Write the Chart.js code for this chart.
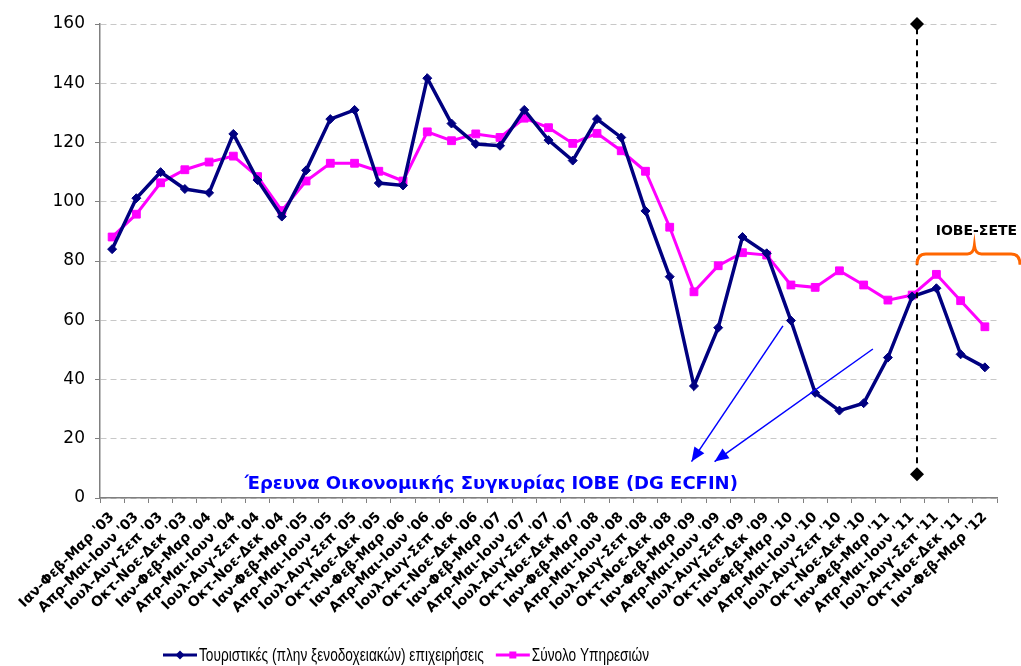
<!DOCTYPE html>
<html>
<head>
<meta charset="utf-8">
<script src="https://cdn.jsdelivr.net/npm/chart.js@4/dist/chart.umd.min.js"></script>
<style>
  html, body { margin: 0; padding: 0; background: #fff; }
  #wrap { width: 1021px; height: 666px; position: relative; }
</style>
</head>
<body>
<div id="wrap"><canvas id="chart"></canvas></div>
<script>
// --- Data ---

const quarterLabels = [
    "Ιαν-Φεβ-Μαρ '03", "Απρ-Μαι-Ιουν '03", "Ιουλ-Αυγ-Σεπ '03", "Οκτ-Νοε-Δεκ '03",
    "Ιαν-Φεβ-Μαρ '04", "Απρ-Μαι-Ιουν '04", "Ιουλ-Αυγ-Σεπ '04", "Οκτ-Νοε-Δεκ '04",
    "Ιαν-Φεβ-Μαρ '05", "Απρ-Μαι-Ιουν '05", "Ιουλ-Αυγ-Σεπ '05", "Οκτ-Νοε-Δεκ '05",
    "Ιαν-Φεβ-Μαρ '06", "Απρ-Μαι-Ιουν '06", "Ιουλ-Αυγ-Σεπ '06", "Οκτ-Νοε-Δεκ '06",
    "Ιαν-Φεβ-Μαρ '07", "Απρ-Μαι-Ιουν '07", "Ιουλ-Αυγ-Σεπ '07", "Οκτ-Νοε-Δεκ '07",
    "Ιαν-Φεβ-Μαρ '08", "Απρ-Μαι-Ιουν '08", "Ιουλ-Αυγ-Σεπ '08", "Οκτ-Νοε-Δεκ '08",
    "Ιαν-Φεβ-Μαρ '09", "Απρ-Μαι-Ιουν '09", "Ιουλ-Αυγ-Σεπ '09", "Οκτ-Νοε-Δεκ '09",
    "Ιαν-Φεβ-Μαρ '10", "Απρ-Μαι-Ιουν '10", "Ιουλ-Αυγ-Σεπ '10", "Οκτ-Νοε-Δεκ '10",
    "Ιαν-Φεβ-Μαρ '11", "Απρ-Μαι-Ιουν '11", "Ιουλ-Αυγ-Σεπ '11", "Οκτ-Νοε-Δεκ '11",
    "Ιαν-Φεβ-Μαρ '12"
];

const tourismValues = [
    84, 101.2, 110, 104.3, 103, 122.9, 107.3, 95,
    110.6, 127.9, 131, 106.3, 105.5, 141.7, 126.4, 119.5,
    118.9, 131, 120.8, 113.9, 127.9, 121.7, 96.9, 74.7,
    37.8, 57.5, 88.1, 82.6, 59.9, 35.5, 29.5, 32,
    47.4, 68, 70.8, 48.5, 44.1
];

const servicesValues = [
    88.1, 95.8, 106.4, 110.8, 113.4, 115.4, 108.5, 97,
    107, 113, 113, 110.3, 107, 123.6, 120.6, 122.9,
    121.7, 128.2, 125, 119.7, 123.1, 117.2, 110.3, 91.4,
    69.6, 78.4, 82.8, 82, 71.9, 71.1, 76.7, 71.9,
    66.8, 68.5, 75.5, 66.6, 57.8
];

const seriesNames = [
    'Τουριστικές (πλην ξενοδοχειακών) επιχειρήσεις',
    'Σύνολο Υπηρεσιών'
];

// annotations, in axis units (category index, value)
const splitIndex = 33.2;
const splitRange = [8, 160];
const braceSpan = [33.2, 37.45];
const braceLevels = [78.7, 82.4, 85.2];
const braceLabel = { text: 'ΙΟΒΕ-ΣΕΤΕ', at: [35.65, 90] };
const surveyNote = { text: 'Έρευνα Οικονομικής Συγκυρίας ΙΟΒΕ (DG ECFIN)', at: [15.64, 4.7] };
const surveyArrows = [
    [[27.67, 58.1], [23.9, 12.3]],
    [[31.38, 50.3], [24.85, 12.3]]
];

// --- Plugins ---

function arrowHead(ctx, x1, y1, x2, y2) {
    const ang = Math.atan2(y2 - y1, x2 - x1);
    const len = 14, half = 6;
    ctx.beginPath();
    ctx.moveTo(x2, y2);
    ctx.lineTo(x2 - len * Math.cos(ang) + half * Math.sin(ang), y2 - len * Math.sin(ang) - half * Math.cos(ang));
    ctx.lineTo(x2 - len * Math.cos(ang) - half * Math.sin(ang), y2 - len * Math.sin(ang) + half * Math.cos(ang));
    ctx.closePath();
    ctx.fill();
}

function diamond(ctx, x, y, r) {
    ctx.beginPath();
    ctx.moveTo(x, y - r);
    ctx.lineTo(x + r, y);
    ctx.lineTo(x, y + r);
    ctx.lineTo(x - r, y);
    ctx.closePath();
    ctx.fill();
}

const annotations = {
    id: 'annotations',
    afterDatasetsDraw(chart) {
        const { ctx, scales: { x, y } } = chart;
        ctx.save();

        // vertical split line
        const sx = x.getPixelForValue(splitIndex);
        ctx.strokeStyle = '#000';
        ctx.lineWidth = 2;
        ctx.setLineDash([6, 5]);
        ctx.beginPath();
        ctx.moveTo(sx, y.getPixelForValue(splitRange[0]));
        ctx.lineTo(sx, y.getPixelForValue(splitRange[1]));
        ctx.stroke();
        ctx.setLineDash([]);
        ctx.fillStyle = '#000';
        diamond(ctx, sx, y.getPixelForValue(splitRange[0]), 7);
        diamond(ctx, sx, y.getPixelForValue(splitRange[1]), 7);

        // orange brace
        const bx0 = x.getPixelForValue(braceSpan[0]);
        const bx1 = x.getPixelForValue(braceSpan[1]);
        const bm = x.getPixelForValue(braceLabel.at[0]) - 2;
        const yEnd = y.getPixelForValue(braceLevels[0]);
        const yMid = y.getPixelForValue(braceLevels[1]);
        const yTop = y.getPixelForValue(braceLevels[2]);
        ctx.strokeStyle = '#FF6600';
        ctx.lineWidth = 3;
        ctx.beginPath();
        ctx.moveTo(bx0, yEnd);
        ctx.quadraticCurveTo(bx0, yMid, bx0 + 9, yMid);
        ctx.lineTo(bm - 7, yMid);
        ctx.quadraticCurveTo(bm - 1, yMid, bm, yTop);
        ctx.quadraticCurveTo(bm + 1, yMid, bm + 7, yMid);
        ctx.lineTo(bx1 - 9, yMid);
        ctx.quadraticCurveTo(bx1, yMid, bx1, yEnd);
        ctx.stroke();

        ctx.fillStyle = '#000';
        ctx.font = 'bold 14px "DejaVu Sans"';
        ctx.textAlign = 'center';
        ctx.textBaseline = 'middle';
        ctx.fillText(braceLabel.text, x.getPixelForValue(braceLabel.at[0]), y.getPixelForValue(braceLabel.at[1]));

        // blue arrows and note
        ctx.strokeStyle = '#0000FF';
        ctx.fillStyle = '#0000FF';
        ctx.lineWidth = 1.5;
        surveyArrows.forEach(([from, to]) => {
            const x1 = x.getPixelForValue(from[0]), y1 = y.getPixelForValue(from[1]);
            const x2 = x.getPixelForValue(to[0]), y2 = y.getPixelForValue(to[1]);
            ctx.beginPath();
            ctx.moveTo(x1, y1);
            ctx.lineTo(x2, y2);
            ctx.stroke();
            arrowHead(ctx, x1, y1, x2, y2);
        });
        ctx.font = 'bold 18px "DejaVu Sans"';
        ctx.fillText(surveyNote.text, x.getPixelForValue(surveyNote.at[0]), y.getPixelForValue(surveyNote.at[1]));

        ctx.restore();
    },
    afterDraw(chart) {
        // legend: line + marker + condensed text
        const { ctx } = chart;
        const datasets = chart.data.datasets;
        const cy = chart.height - 11;
        const squash = 0.72;
        let lx = 163;
        ctx.save();
        ctx.font = '19px "Liberation Sans"';
        ctx.textBaseline = 'middle';
        ctx.textAlign = 'left';
        datasets.forEach((ds, i) => {
            ctx.strokeStyle = ds.borderColor;
            ctx.fillStyle = ds.borderColor;
            ctx.lineWidth = 3;
            ctx.beginPath();
            ctx.moveTo(lx, cy);
            ctx.lineTo(lx + 34, cy);
            ctx.stroke();
            if (ds.pointStyle === 'rectRot') {
                diamond(ctx, lx + 17, cy, 4.5);
            } else {
                ctx.fillRect(lx + 13.5, cy - 3.5, 7, 7);
            }
            lx += 36;
            const w = ctx.measureText(ds.label).width * squash;
            ctx.save();
            ctx.translate(lx, cy);
            ctx.scale(squash, 1);
            ctx.fillStyle = '#000';
            ctx.fillText(ds.label, 0, 1);
            ctx.restore();
            lx += w + 12;
        });
        ctx.restore();
    }
};

// --- Chart ---

new Chart(document.getElementById('chart'), {
    type: 'line',
    data: {
        labels: quarterLabels,
        datasets: [{
            label: seriesNames[0],
            data: tourismValues,
            borderColor: '#000080',
            backgroundColor: '#000080',
            borderWidth: 3.5,
            pointStyle: 'rectRot',
            pointRadius: 4.5,
            pointBorderWidth: 1,
            tension: 0
        }, {
            label: seriesNames[1],
            data: servicesValues,
            borderColor: '#FF00FF',
            backgroundColor: '#FF00FF',
            borderWidth: 3,
            pointStyle: 'rect',
            pointRadius: 5.5,
            pointBorderWidth: 1,
            tension: 0
        }]
    },
    options: {
        responsive: true,
        maintainAspectRatio: false,
        animation: false,
        layout: { padding: { top: 24, right: 24, bottom: 30, left: 0 } },
        plugins: {
            tooltip: { enabled: false },
            legend: { display: false }
        },
        scales: {
            x: {
                offset: true,
                afterFit(scale) { scale.height = 138; },
                grid: {
                    offset: true,
                    drawOnChartArea: false,
                    tickLength: 5,
                    tickColor: '#808080'
                },
                border: { color: '#808080', width: 1.5 },
                ticks: {
                    autoSkip: false,
                    maxRotation: 45,
                    minRotation: 45,
                    color: '#000',
                    padding: 6,
                    font: { family: '"DejaVu Sans"', size: 14, weight: 'bold' }
                }
            },
            y: {
                min: 0,
                max: 160,
                afterFit(scale) { scale.width = 100; },
                grid: {
                    color: '#c8c8c8',
                    lineWidth: 1,
                    tickLength: 5,
                    tickColor: '#808080',
                    tickBorderDash: []
                },
                border: { color: '#808080', width: 1.5, dash: [6, 4] },
                ticks: {
                    stepSize: 20,
                    color: '#000',
                    padding: 10,
                    font: { family: '"DejaVu Sans"', size: 17 }
                }
            }
        }
    },
    plugins: [annotations]
});
</script>
</body>
</html>
